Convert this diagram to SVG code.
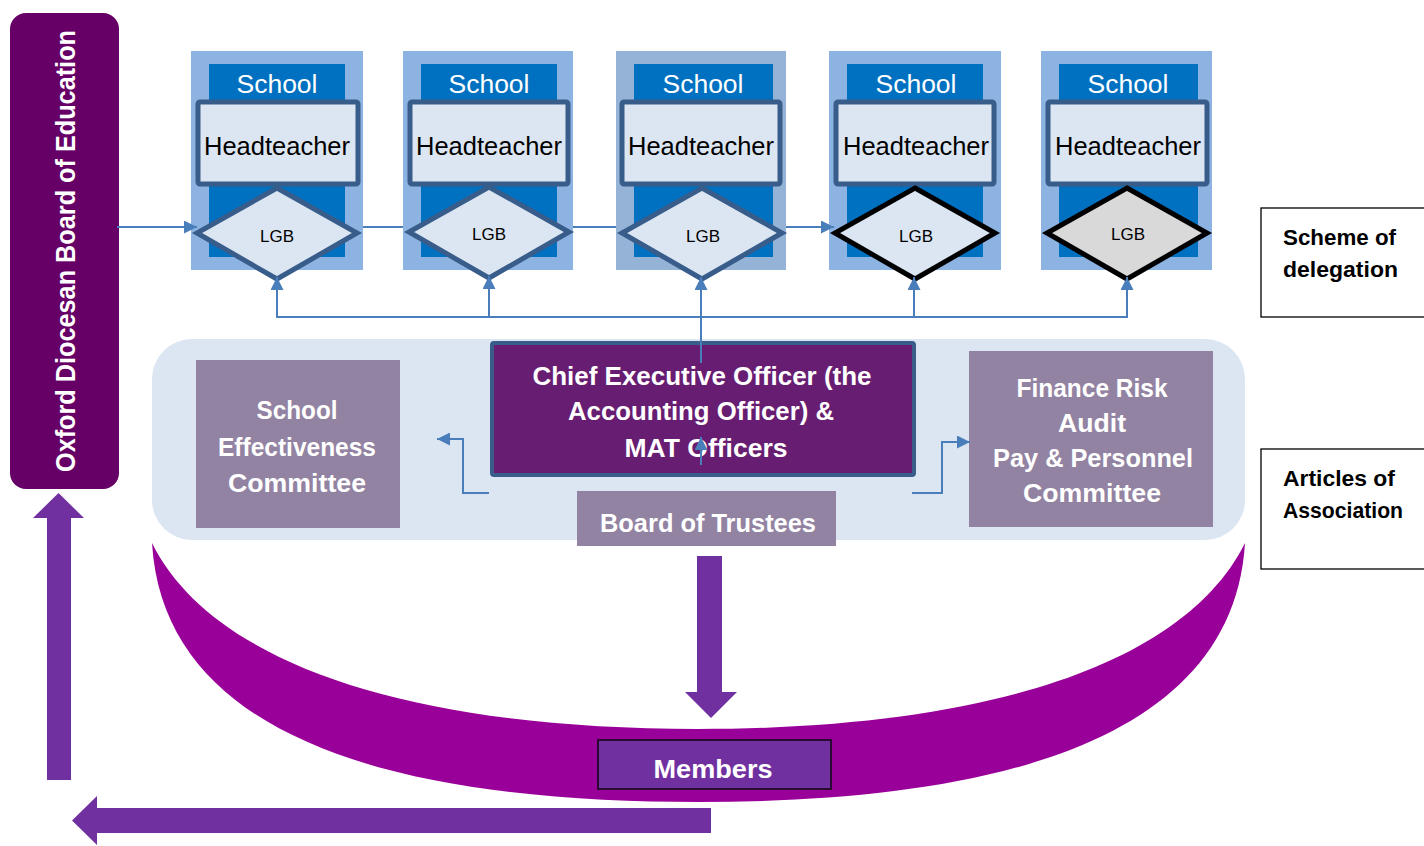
<svg xmlns="http://www.w3.org/2000/svg" width="1424" height="846" viewBox="0 0 1424 846">
<style>
text{font-family:"Liberation Sans",Arial,sans-serif}
.outer{fill:#8DB3E2}
.inner{fill:#0070C0}
.head{fill:#DCE6F2;stroke:#385D8A;stroke-width:5}
.dia{fill:#DCE6F2;stroke:#385D8A;stroke-width:5;stroke-linejoin:miter}
.diab{fill:#DCE6F2;stroke:#000;stroke-width:5}
.sch{fill:#fff;font-size:25px;text-anchor:middle}
.ht{fill:#000;font-size:25px;text-anchor:middle}
.lgb{fill:#000;font-size:17px;text-anchor:middle}
.wb{fill:#fff;font-size:25px;font-weight:bold;text-anchor:middle}
.com{fill:#9383A2}
.side{fill:#fff;stroke:#000;stroke-width:1.3}
.st{fill:#000;font-size:22px;font-weight:bold}
.con{fill:none;stroke:#4A7EBB;stroke-width:2}
.big{fill:#7030A0}
</style>
<defs>
<marker id="ah" viewBox="0 0 10 10" refX="10" refY="5" markerWidth="15" markerHeight="13" markerUnits="userSpaceOnUse" orient="auto"><path d="M0,0 L10,5 L0,10 z" fill="#4A7EBB"/></marker>
</defs>
<rect width="1424" height="846" fill="#fff"/>

<g id="crescent">
<path d="M152,543 C165,760 450,802 698,802 C946,802 1232,760 1245,543 C1187,660 997,729 698,729 C400,729 210,660 152,543 Z" fill="#990099"/>
</g>

<g id="oxford-board">
<rect x="10" y="13" width="109" height="476" rx="16" fill="#660066"/>
<text transform="translate(75,251) rotate(-90)" x="0" y="0" text-anchor="middle" fill="#fff" font-size="27" font-weight="bold" textLength="442" lengthAdjust="spacingAndGlyphs">Oxford Diocesan Board of Education</text>
</g>

<g id="school1">
<rect class="outer" x="191" y="51" width="172" height="219"/>
<rect class="inner" x="209" y="64" width="136" height="193"/>
<text class="sch" x="277" y="93" textLength="81" lengthAdjust="spacingAndGlyphs">School</text>
<rect class="head" x="198" y="102" width="160" height="82" rx="2"/>
<text class="ht" x="277" y="155" textLength="146" lengthAdjust="spacingAndGlyphs">Headteacher</text>
<polygon class="dia" points="277,188 357,233 277,279 197,233"/>
<text class="lgb" x="277" y="242">LGB</text>
</g>

<g id="school2">
<rect class="outer" x="403" y="51" width="170" height="219"/>
<rect class="inner" x="421" y="64" width="136" height="193"/>
<text class="sch" x="489" y="93" textLength="81" lengthAdjust="spacingAndGlyphs">School</text>
<rect class="head" x="410" y="102" width="158" height="82" rx="2"/>
<text class="ht" x="489" y="155" textLength="146" lengthAdjust="spacingAndGlyphs">Headteacher</text>
<polygon class="dia" points="489,187 569,232 489,278 409,232"/>
<text class="lgb" x="489" y="240">LGB</text>
</g>

<g id="school3">
<rect x="616" y="51" width="170" height="219" fill="#95B3D7"/>
<rect class="inner" x="634" y="64" width="139" height="193"/>
<text class="sch" x="703" y="93" textLength="81" lengthAdjust="spacingAndGlyphs">School</text>
<rect class="head" x="622" y="102" width="158" height="82" rx="2"/>
<text class="ht" x="701" y="155" textLength="146" lengthAdjust="spacingAndGlyphs">Headteacher</text>
<polygon class="dia" points="702,188 782,233 702,279 622,233"/>
<text class="lgb" x="703" y="242">LGB</text>
</g>

<g id="school4">
<rect class="outer" x="829" y="51" width="172" height="219"/>
<rect class="inner" x="847" y="64" width="136" height="193"/>
<text class="sch" x="916" y="93" textLength="81" lengthAdjust="spacingAndGlyphs">School</text>
<rect class="head" x="836" y="102" width="158" height="82" rx="2"/>
<text class="ht" x="916" y="155" textLength="146" lengthAdjust="spacingAndGlyphs">Headteacher</text>
<polygon class="diab" points="915,188 995,233 915,279 835,233"/>
<text class="lgb" x="916" y="242">LGB</text>
</g>

<g id="school5">
<rect class="outer" x="1041" y="51" width="171" height="219"/>
<rect class="inner" x="1059" y="64" width="139" height="193"/>
<text class="sch" x="1128" y="93" textLength="81" lengthAdjust="spacingAndGlyphs">School</text>
<rect class="head" x="1048" y="102" width="159" height="82" rx="2"/>
<text class="ht" x="1128" y="155" textLength="146" lengthAdjust="spacingAndGlyphs">Headteacher</text>
<polygon class="diab" points="1127,188 1207,233 1127,279 1047,233" fill="#D9D9D9" style="fill:#D9D9D9"/>
<text class="lgb" x="1128" y="240">LGB</text>
</g>

<g id="trustees-container">
<rect x="152" y="339" width="1093" height="201" rx="40" fill="#DCE6F2"/>
</g>

<g id="school-effectiveness">
<rect class="com" x="196" y="360" width="204" height="168"/>
<text class="wb" x="297" y="419" textLength="81" lengthAdjust="spacingAndGlyphs">School</text>
<text class="wb" x="297" y="456" textLength="158" lengthAdjust="spacingAndGlyphs">Effectiveness</text>
<text class="wb" x="297" y="492" textLength="138" lengthAdjust="spacingAndGlyphs">Committee</text>
</g>

<g id="ceo">
<rect x="492" y="343" width="422" height="132" rx="2" fill="#671D71" stroke="#385D8A" stroke-width="4"/>
<text class="wb" x="702" y="385" textLength="339" lengthAdjust="spacingAndGlyphs">Chief Executive Officer (the</text>
<text class="wb" x="701" y="420" textLength="266" lengthAdjust="spacingAndGlyphs">Accounting Officer) &amp;</text>
<text class="wb" x="706" y="457" textLength="163" lengthAdjust="spacingAndGlyphs">MAT Officers</text>
</g>

<g id="finance">
<rect class="com" x="969" y="351" width="244" height="176"/>
<text class="wb" x="1092" y="397" textLength="151" lengthAdjust="spacingAndGlyphs">Finance Risk</text>
<text class="wb" x="1092" y="432" textLength="68" lengthAdjust="spacingAndGlyphs">Audit</text>
<text class="wb" x="1093" y="467" textLength="200" lengthAdjust="spacingAndGlyphs">Pay &amp; Personnel</text>
<text class="wb" x="1092" y="502" textLength="138" lengthAdjust="spacingAndGlyphs">Committee</text>
</g>

<g id="board-of-trustees">
<rect class="com" x="577" y="491" width="259" height="55"/>
<text class="wb" x="708" y="532" textLength="216" lengthAdjust="spacingAndGlyphs">Board of Trustees</text>
</g>

<g id="members">
<rect x="598" y="740" width="233" height="49" fill="#7030A0" stroke="#2A0A33" stroke-width="2"/>
<text class="wb" x="713" y="778" textLength="119" lengthAdjust="spacingAndGlyphs">Members</text>
</g>

<g id="scheme-of-delegation">
<rect class="side" x="1261" y="208" width="170" height="109"/>
<text class="st" x="1283" y="245" textLength="113" lengthAdjust="spacingAndGlyphs">Scheme of</text>
<text class="st" x="1283" y="277" textLength="115" lengthAdjust="spacingAndGlyphs">delegation</text>
</g>

<g id="articles-of-association">
<rect class="side" x="1261" y="449" width="170" height="120"/>
<text class="st" x="1283" y="486" textLength="112" lengthAdjust="spacingAndGlyphs">Articles of</text>
<text class="st" x="1283" y="518" textLength="120" lengthAdjust="spacingAndGlyphs">Association</text>
</g>

<g id="connectors">
<path class="con" d="M117,227 H197" marker-end="url(#ah)"/>
<path class="con" d="M363,227 H403"/>
<path class="con" d="M573,227 H616"/>
<path class="con" d="M786,227 H834" marker-end="url(#ah)"/>
<path class="con" d="M276,317 H1128"/>
<path class="con" d="M277,317 V277" marker-end="url(#ah)"/>
<path class="con" d="M489,317 V276" marker-end="url(#ah)"/>
<path class="con" d="M701,317 V277" marker-end="url(#ah)"/>
<path class="con" d="M914,317 V277" marker-end="url(#ah)"/>
<path class="con" d="M1127,317 V277" marker-end="url(#ah)"/>
<path class="con" d="M701,317 V363"/>
<path class="con" d="M701,465 V437" marker-end="url(#ah)"/>
<path class="con" d="M489,493 H463 V439 H437" marker-end="url(#ah)"/>
<path class="con" d="M912,493 H942 V442 H970" marker-end="url(#ah)"/>
<polygon class="big" points="697,556 722,556 722,692 737,692 711,718 685,692 697,692"/>
<polygon class="big" points="47,780 71,780 71,518 84,518 58.5,493 33,518 47,518"/>
<polygon class="big" points="711,808 711,833 97,833 97,845 72,820.5 97,796 97,808"/>
</g>
</svg>
